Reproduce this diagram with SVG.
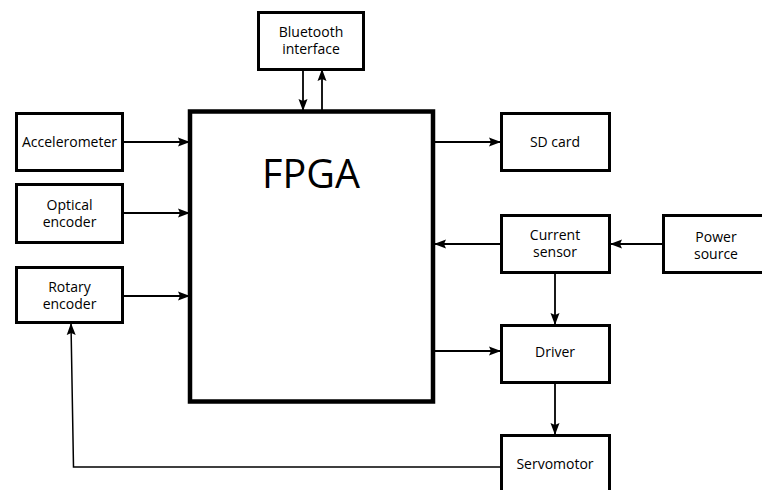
<svg xmlns="http://www.w3.org/2000/svg" width="762" height="490" viewBox="0 0 762 490">
<style>
.box{fill:#fff;stroke:#000;stroke-width:3}
.fpga{fill:#fff;stroke:#000;stroke-width:4.5}
.t{font-family:"Open Sans","Liberation Sans",sans-serif;font-size:14px;fill:#000;text-anchor:middle}
.big{font-family:"Open Sans","Liberation Sans",sans-serif;font-size:39.5px;fill:#000;text-anchor:middle}
.c{fill:none;stroke:#000;stroke-width:1.8}
.thin{fill:none;stroke:#000;stroke-width:1.5}
</style>
<defs>
<marker id="ah" markerUnits="userSpaceOnUse" markerWidth="12" markerHeight="10" refX="11" refY="5" orient="auto">
<path d="M0,0.5 L12,5 L0,9.5 L2,5 z" fill="#000"/>
</marker>
</defs>
<rect width="762" height="490" fill="#fff"/>
<g id="connectors">
<path class="c" d="M303,70 V110" marker-end="url(#ah)"/>
<path class="c" d="M322,110 V70" marker-end="url(#ah)"/>
<path class="c" d="M123,142 H189" marker-end="url(#ah)"/>
<path class="c" d="M123,213 H189" marker-end="url(#ah)"/>
<path class="c" d="M123,296 H189" marker-end="url(#ah)"/>
<path class="c" d="M435,142 H500" marker-end="url(#ah)"/>
<path class="c" d="M500,244 H435" marker-end="url(#ah)"/>
<path class="c" d="M663,244 H611" marker-end="url(#ah)"/>
<path class="c" d="M555,273 V324" marker-end="url(#ah)"/>
<path class="c" d="M435,351 H500" marker-end="url(#ah)"/>
<path class="c" d="M555,383 V434" marker-end="url(#ah)"/>
<path class="thin" d="M500,467 H73.5 L71,324" marker-end="url(#ah)"/>
</g>
<g id="fpga">
<rect class="fpga" x="190" y="111.5" width="243" height="290"/>
<text class="big" x="311" y="188">FPGA</text>
</g>
<g id="bluetooth">
<rect class="box" x="258.5" y="12.5" width="105" height="57"/>
<text class="t" x="311" y="37">Bluetooth</text>
<text class="t" x="311" y="54">interface</text>
</g>
<g id="accelerometer">
<rect class="box" x="16.5" y="113.5" width="106" height="57"/>
<text class="t" x="69.5" y="147">Accelerometer</text>
</g>
<g id="optical">
<rect class="box" x="16.5" y="184.5" width="106" height="58"/>
<text class="t" x="69.5" y="210">Optical</text>
<text class="t" x="69.5" y="227">encoder</text>
</g>
<g id="rotary">
<rect class="box" x="16.5" y="267.5" width="106" height="55"/>
<text class="t" x="69.5" y="292">Rotary</text>
<text class="t" x="69.5" y="309">encoder</text>
</g>
<g id="sdcard">
<rect class="box" x="501.5" y="113.5" width="108" height="57"/>
<text class="t" x="555" y="147">SD card</text>
</g>
<g id="current">
<rect class="box" x="501.5" y="215.5" width="108" height="57"/>
<text class="t" x="555" y="240">Current</text>
<text class="t" x="555" y="257">sensor</text>
</g>
<g id="power">
<rect class="box" x="663.5" y="215.5" width="106" height="57"/>
<text class="t" x="716" y="242">Power</text>
<text class="t" x="716" y="259">source</text>
</g>
<g id="driver">
<rect class="box" x="501.5" y="325.5" width="108" height="57"/>
<text class="t" x="555" y="357">Driver</text>
</g>
<g id="servomotor">
<rect class="box" x="501.5" y="435.5" width="108" height="60"/>
<text class="t" x="555" y="469">Servomotor</text>
</g>
</svg>
